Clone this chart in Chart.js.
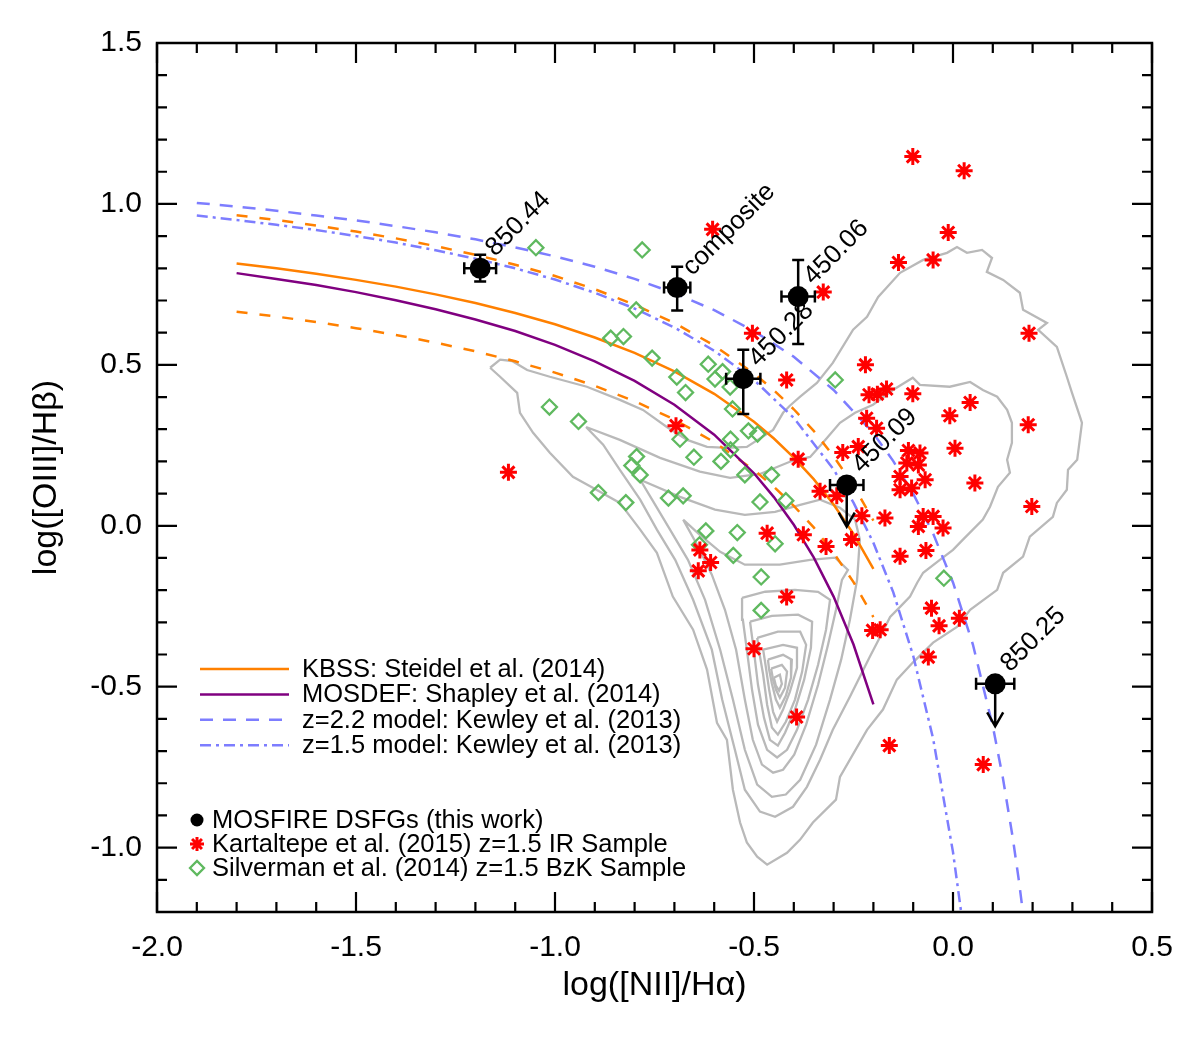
<!DOCTYPE html>
<html><head><meta charset="utf-8">
<script src="https://cdn.jsdelivr.net/npm/chart.js@4/dist/chart.umd.min.js"></script>
<style>html,body{margin:0;padding:0;background:#fff}</style>
</head><body>
<canvas id="c" width="1200" height="1050"></canvas>
<script>
// ---------------- data ----------------
const xTicks = [-2.0, -1.5, -1.0, -0.5, 0.0, 0.5];
const yTicks = [-1.0, -0.5, 0.0, 0.5, 1.0, 1.5];

const mosfireNames = ['850.44', 'composite', '450.06', '450.28', '450.09', '850.25'];
const mosfireX = [-1.188, -0.693, -0.389, -0.527, -0.267, 0.106];
const mosfireY = [0.800, 0.740, 0.712, 0.457, 0.127, -0.491];
const mosfireXErr = [0.040, 0.033, 0.042, 0.043, 0.042, 0.048];
const mosfireYErrHi = [0.042, 0.065, 0.114, 0.090, 0, 0];
const mosfireYErrLo = [0.041, 0.071, 0.147, 0.110, 0, 0];
const mosfireLimitTip = [null, null, null, null, -0.003, -0.623]; // upper limits: arrow tip

const kartaltepe = [[-0.217,0.334],[-0.192,0.303],[-0.008,0.342],[0.189,0.314],[-0.389,0.207],[-0.277,0.228],[-0.238,0.246],[-0.112,0.234],[-0.083,0.226],[-0.116,0.195],[-0.087,0.189],[0.005,0.241],[-0.133,0.153],[-0.070,0.143],[-0.133,0.112],[-0.104,0.117],[0.055,0.133],[0.198,0.060],[-0.334,0.107],[-0.292,0.093],[-0.229,0.031],[-0.171,0.024],[-0.075,0.029],[-0.050,0.029],[-0.087,-0.002],[-0.025,-0.007],[-0.376,-0.028],[-0.319,-0.064],[-0.255,-0.043],[-0.133,-0.095],[-0.068,-0.077],[-0.054,-0.256],[-0.035,-0.311],[0.016,-0.287],[-0.202,-0.325],[-0.183,-0.323],[-0.062,-0.408],[-0.393,-0.594],[-0.160,-0.683],[0.076,-0.742],[-0.101,1.147],[0.028,1.103],[-0.012,0.911],[-0.137,0.818],[-0.050,0.826],[-0.326,0.726],[0.191,0.598],[-0.220,0.500],[-0.211,0.407],[-0.190,0.409],[-0.167,0.425],[-0.101,0.410],[0.043,0.383],[-0.604,0.921],[-0.504,0.598],[-0.418,0.453],[-0.696,0.311],[-1.117,0.166],[-0.467,-0.023],[-0.636,-0.075],[-0.609,-0.114],[-0.640,-0.140],[-0.418,-0.221],[-0.500,-0.382]];

const silverman = [[-1.048,0.864],[-0.781,0.857],[-0.796,0.671],[-0.860,0.583],[-0.828,0.588],[-0.756,0.521],[-0.694,0.462],[-0.672,0.414],[-0.615,0.502],[-0.579,0.479],[-0.598,0.456],[-0.560,0.431],[-0.554,0.363],[-1.014,0.369],[-0.941,0.324],[-0.686,0.269],[-0.514,0.295],[-0.491,0.285],[-0.559,0.269],[-0.559,0.236],[-0.651,0.213],[-0.583,0.200],[-0.795,0.215],[-0.807,0.187],[-0.786,0.158],[-0.523,0.158],[-0.456,0.158],[-0.891,0.103],[-0.822,0.072],[-0.715,0.086],[-0.678,0.093],[-0.485,0.074],[-0.420,0.078],[-0.621,-0.016],[-0.542,-0.021],[-0.447,-0.056],[-0.637,-0.059],[-0.552,-0.092],[-0.482,-0.159],[-0.482,-0.263],[-0.023,-0.163],[-0.296,0.453]];

const kbss = [[-1.8,0.815],[-1.7,0.800],[-1.6,0.783],[-1.5,0.764],[-1.4,0.743],[-1.3,0.719],[-1.2,0.692],[-1.1,0.661],[-1.0,0.626],[-0.9,0.585],[-0.8,0.537],[-0.7,0.480],[-0.6,0.410],[-0.5,0.323],[-0.45,0.271],[-0.4,0.212],[-0.35,0.145],[-0.3,0.066],[-0.25,-0.025],[-0.2,-0.134]];
const kbssUpper = [[-1.8,0.965],[-1.7,0.950],[-1.6,0.933],[-1.5,0.914],[-1.4,0.893],[-1.3,0.869],[-1.2,0.842],[-1.1,0.811],[-1.0,0.776],[-0.9,0.735],[-0.8,0.687],[-0.7,0.630],[-0.6,0.560],[-0.5,0.473],[-0.45,0.421],[-0.4,0.362],[-0.35,0.295],[-0.3,0.216],[-0.25,0.125],[-0.2,0.016]];
const kbssLower = [[-1.8,0.665],[-1.7,0.650],[-1.6,0.633],[-1.5,0.614],[-1.4,0.593],[-1.3,0.569],[-1.2,0.542],[-1.1,0.511],[-1.0,0.476],[-0.9,0.435],[-0.8,0.387],[-0.7,0.330],[-0.6,0.260],[-0.5,0.173],[-0.45,0.121],[-0.4,0.062],[-0.35,-0.005],[-0.3,-0.084],[-0.25,-0.175],[-0.2,-0.284]];
const mosdef = [[-1.8,0.785],[-1.7,0.767],[-1.6,0.748],[-1.5,0.726],[-1.4,0.701],[-1.3,0.673],[-1.2,0.641],[-1.1,0.605],[-1.0,0.562],[-0.9,0.511],[-0.8,0.450],[-0.7,0.376],[-0.6,0.283],[-0.5,0.163],[-0.45,0.089],[-0.4,0.003],[-0.35,-0.098],[-0.3,-0.220],[-0.25,-0.369],[-0.2,-0.555]];
const kewleyZ22 = [[-1.9,1.003],[-1.8,0.992],[-1.7,0.979],[-1.6,0.964],[-1.5,0.949],[-1.4,0.931],[-1.3,0.912],[-1.2,0.890],[-1.1,0.865],[-1.0,0.837],[-0.9,0.805],[-0.8,0.767],[-0.7,0.723],[-0.6,0.670],[-0.5,0.605],[-0.4,0.525],[-0.3,0.422],[-0.2,0.287],[-0.15,0.201],[-0.1,0.100],[-0.05,-0.024],[0.0,-0.176],[0.05,-0.369],[0.1,-0.623],[0.125,-0.781],[0.15,-0.968],[0.165,-1.098],[0.176,-1.204]];
const kewleyZ15 = [[-1.9,0.964],[-1.8,0.950],[-1.7,0.935],[-1.6,0.919],[-1.5,0.900],[-1.4,0.880],[-1.3,0.856],[-1.2,0.830],[-1.1,0.800],[-1.0,0.765],[-0.9,0.724],[-0.8,0.675],[-0.7,0.616],[-0.6,0.544],[-0.5,0.453],[-0.4,0.335],[-0.3,0.175],[-0.25,0.072],[-0.2,-0.053],[-0.15,-0.207],[-0.1,-0.404],[-0.05,-0.661],[0.0,-1.014],[0.021,-1.205]];

// SDSS contours (outer to inner), closed polylines
const sdss1 = [[-1.163,0.491],[-1.138,0.516],[-1.108,0.512],[-1.070,0.484],[-1.013,0.463],[-0.920,0.432],[-0.837,0.391],[-0.779,0.360],[-0.719,0.307],[-0.668,0.267],[-0.618,0.245],[-0.568,0.242],[-0.518,0.245],[-0.452,0.298],[-0.427,0.351],[-0.410,0.373],[-0.384,0.401],[-0.342,0.444],[-0.302,0.506],[-0.251,0.609],[-0.216,0.649],[-0.188,0.711],[-0.133,0.786],[-0.075,0.826],[-0.015,0.848],[0.010,0.866],[0.035,0.848],[0.073,0.857],[0.098,0.832],[0.085,0.789],[0.126,0.764],[0.168,0.724],[0.176,0.671],[0.236,0.630],[0.214,0.609],[0.261,0.556],[0.286,0.463],[0.299,0.413],[0.319,0.339],[0.324,0.320],[0.312,0.205],[0.289,0.174],[0.286,0.112],[0.261,0.071],[0.251,0.028],[0.193,-0.034],[0.176,-0.096],[0.126,-0.146],[0.111,-0.199],[0.043,-0.261],[0.010,-0.314],[-0.050,-0.363],[-0.101,-0.425],[-0.141,-0.478],[-0.176,-0.571],[-0.216,-0.634],[-0.284,-0.780],[-0.294,-0.851],[-0.352,-0.922],[-0.384,-0.975],[-0.417,-1.016],[-0.467,-1.053],[-0.492,-1.028],[-0.518,-0.984],[-0.535,-0.922],[-0.553,-0.820],[-0.568,-0.665],[-0.593,-0.612],[-0.618,-0.447],[-0.653,-0.323],[-0.704,-0.220],[-0.744,-0.084],[-0.786,-0.012],[-0.837,0.071],[-0.905,0.118],[-0.955,0.152],[-1.013,0.227],[-1.055,0.289],[-1.088,0.351],[-1.095,0.413],[-1.138,0.463],[-1.163,0.491]];
const sdss2 = [[-0.922,0.307],[-0.837,0.267],[-0.736,0.211],[-0.636,0.168],[-0.560,0.149],[-0.485,0.161],[-0.410,0.199],[-0.359,0.214],[-0.327,0.258],[-0.284,0.320],[-0.246,0.351],[-0.201,0.376],[-0.151,0.422],[-0.101,0.460],[-0.083,0.438],[-0.008,0.432],[0.043,0.447],[0.075,0.422],[0.111,0.401],[0.136,0.360],[0.148,0.320],[0.148,0.258],[0.136,0.205],[0.143,0.165],[0.113,0.121],[0.093,0.059],[0.075,0.019],[0.025,-0.043],[0.000,-0.075],[-0.033,-0.106],[-0.075,-0.146],[-0.090,-0.177],[-0.108,-0.220],[-0.133,-0.252],[-0.158,-0.283],[-0.183,-0.345],[-0.209,-0.407],[-0.234,-0.469],[-0.259,-0.531],[-0.302,-0.634],[-0.334,-0.727],[-0.367,-0.811],[-0.402,-0.873],[-0.447,-0.904],[-0.485,-0.888],[-0.523,-0.820],[-0.548,-0.696],[-0.580,-0.540],[-0.606,-0.385],[-0.653,-0.230],[-0.698,-0.106],[-0.744,-0.012],[-0.786,0.081],[-0.837,0.174],[-0.879,0.252],[-0.922,0.307]];
const sdss3 = [[-0.786,0.143],[-0.686,0.090],[-0.598,0.050],[-0.523,0.034],[-0.447,0.043],[-0.384,0.065],[-0.334,0.081],[-0.284,0.056],[-0.246,0.019],[-0.234,-0.043],[-0.241,-0.168],[-0.259,-0.292],[-0.281,-0.416],[-0.309,-0.540],[-0.344,-0.680],[-0.384,-0.789],[-0.420,-0.835],[-0.455,-0.842],[-0.492,-0.804],[-0.523,-0.696],[-0.553,-0.540],[-0.585,-0.385],[-0.623,-0.230],[-0.666,-0.106],[-0.711,-0.012],[-0.756,0.081],[-0.786,0.143]];
const sdss4 = [[-0.678,0.019],[-0.636,-0.028],[-0.585,-0.081],[-0.523,-0.121],[-0.435,-0.121],[-0.359,-0.106],[-0.296,-0.099],[-0.264,-0.137],[-0.279,-0.168],[-0.294,-0.261],[-0.314,-0.370],[-0.339,-0.494],[-0.369,-0.618],[-0.399,-0.711],[-0.427,-0.758],[-0.452,-0.767],[-0.480,-0.742],[-0.503,-0.665],[-0.523,-0.540],[-0.545,-0.385],[-0.573,-0.261],[-0.606,-0.152],[-0.643,-0.059],[-0.678,0.019]];
const sdss5 = [[-0.530,-0.224],[-0.472,-0.205],[-0.397,-0.199],[-0.339,-0.205],[-0.309,-0.230],[-0.319,-0.323],[-0.339,-0.432],[-0.364,-0.540],[-0.392,-0.634],[-0.417,-0.696],[-0.442,-0.720],[-0.467,-0.696],[-0.490,-0.618],[-0.505,-0.509],[-0.518,-0.385],[-0.528,-0.292],[-0.530,-0.224]];
const sdss6 = [[-0.510,-0.298],[-0.455,-0.280],[-0.389,-0.276],[-0.354,-0.298],[-0.357,-0.379],[-0.374,-0.478],[-0.397,-0.571],[-0.422,-0.643],[-0.440,-0.683],[-0.460,-0.665],[-0.475,-0.596],[-0.490,-0.494],[-0.500,-0.391],[-0.510,-0.298]];
const sdss7 = [[-0.492,-0.348],[-0.440,-0.329],[-0.384,-0.329],[-0.369,-0.370],[-0.379,-0.453],[-0.397,-0.540],[-0.420,-0.609],[-0.440,-0.649],[-0.455,-0.627],[-0.467,-0.556],[-0.477,-0.463],[-0.487,-0.391],[-0.492,-0.348]];
const sdss8 = [[-0.477,-0.385],[-0.427,-0.370],[-0.392,-0.379],[-0.392,-0.441],[-0.410,-0.516],[-0.427,-0.571],[-0.442,-0.609],[-0.452,-0.578],[-0.462,-0.509],[-0.470,-0.441],[-0.477,-0.385]];
const sdss9 = [[-0.465,-0.416],[-0.427,-0.401],[-0.405,-0.416],[-0.407,-0.472],[-0.420,-0.528],[-0.435,-0.565],[-0.445,-0.540],[-0.455,-0.491],[-0.462,-0.447],[-0.465,-0.416]];
const sdss10 = [[-0.457,-0.444],[-0.430,-0.432],[-0.417,-0.453],[-0.422,-0.503],[-0.435,-0.534],[-0.445,-0.509],[-0.452,-0.478],[-0.457,-0.444]];
const sdss11 = [[-0.450,-0.472],[-0.435,-0.463],[-0.430,-0.491],[-0.437,-0.512],[-0.445,-0.497],[-0.450,-0.472]];
const sdssContours = [sdss1, sdss2, sdss3, sdss4, sdss5, sdss6, sdss7, sdss8, sdss9, sdss10, sdss11];

// ---------------- styles ----------------
const FONT = '"Liberation Sans", Arial, Helvetica, sans-serif';
const ORANGE = 'rgb(255,128,0)';
const PURPLE = 'rgb(128,0,128)';
const BLUE = 'rgb(125,125,255)';
const GREEN = 'rgb(95,185,95)';
const RED = 'rgb(255,0,0)';
const GREY = 'rgb(185,185,185)';

const toXY = arr => arr.map(p => ({x: p[0], y: p[1]}));
const lineDS = (label, arr, color, dash, order, legend) => ({
  label, data: toXY(arr), showLine: true, pointRadius: 0, borderColor: color,
  borderWidth: 2.5, borderDash: dash, fill: false, tension: 0, order, legendLine: legend
});

const datasets = [
  {label: 'MOSFIRE DSFGs (this work)', data: mosfireX.map((x, i) => ({x, y: mosfireY[i]})),
   pointStyle: 'circle', pointRadius: 10.5, backgroundColor: '#000', borderColor: '#000', borderWidth: 0, order: 0, legendSym: 0},
  {label: 'Kartaltepe et al. (2015) z=1.5 IR Sample', data: toXY(kartaltepe), pointStyle: 'star',
   pointRadius: 8.5, borderColor: RED, backgroundColor: RED, borderWidth: 3, order: 1, legendSym: 1},
  {label: 'Silverman et al. (2014) z=1.5 BzK Sample', data: toXY(silverman), pointStyle: 'rectRot',
   pointRadius: 7.5, borderColor: GREEN, backgroundColor: 'rgba(0,0,0,0)', borderWidth: 2.3, order: 2, legendSym: 2},
  lineDS('KBSS: Steidel et al. (2014)', kbss, ORANGE, [], 3, 0),
  lineDS('KBSS upper', kbssUpper, ORANGE, [11, 12], 4, null),
  lineDS('KBSS lower', kbssLower, ORANGE, [11, 12], 4, null),
  lineDS('MOSDEF: Shapley et al. (2014)', mosdef, PURPLE, [], 3, 1),
  lineDS('z=2.2 model: Kewley et al. (2013)', kewleyZ22, BLUE, [13, 10], 5, 2),
  lineDS('z=1.5 model: Kewley et al. (2013)', kewleyZ15, BLUE, [11, 5, 3, 5], 5, 3),
];
sdssContours.forEach((c, i) => {
  datasets.push({label: 'SDSS ' + (i + 1), data: toXY(c), showLine: true, pointRadius: 0,
    borderColor: GREY, borderWidth: 2.3, fill: false, tension: 0, order: 10});
});

// ---------------- plugins ----------------
const framePlugin = {
  id: 'frame',
  afterDatasetsDraw(chart) {
    const {ctx, chartArea: a, scales: {x, y}} = chart;
    ctx.save();
    ctx.strokeStyle = '#000';
    ctx.lineWidth = 2.5;
    for (let i = 0; i < mosfireX.length; i++) {
      const px = x.getPixelForValue(mosfireX[i]);
      const py = y.getPixelForValue(mosfireY[i]);
      const xl = x.getPixelForValue(mosfireX[i] - mosfireXErr[i]);
      const xr = x.getPixelForValue(mosfireX[i] + mosfireXErr[i]);
      ctx.beginPath();
      ctx.moveTo(xl, py); ctx.lineTo(xr, py);
      ctx.moveTo(xl, py - 6); ctx.lineTo(xl, py + 6);
      ctx.moveTo(xr, py - 6); ctx.lineTo(xr, py + 6);
      ctx.stroke();
      if (mosfireLimitTip[i] === null) {
        const yt = y.getPixelForValue(mosfireY[i] + mosfireYErrHi[i]);
        const yb = y.getPixelForValue(mosfireY[i] - mosfireYErrLo[i]);
        ctx.beginPath();
        ctx.moveTo(px, yt); ctx.lineTo(px, yb);
        ctx.moveTo(px - 6, yt); ctx.lineTo(px + 6, yt);
        ctx.moveTo(px - 6, yb); ctx.lineTo(px + 6, yb);
        ctx.stroke();
      } else {
        const tip = y.getPixelForValue(mosfireLimitTip[i]);
        ctx.beginPath();
        ctx.moveTo(px, py); ctx.lineTo(px, tip);
        ctx.moveTo(px - 8, tip - 14); ctx.lineTo(px, tip); ctx.lineTo(px + 8, tip - 14);
        ctx.stroke();
      }
      ctx.save();
      ctx.translate(px + 15, py - 11);
      ctx.rotate(-Math.PI / 4);
      ctx.fillStyle = '#000';
      ctx.font = '26px ' + FONT;
      ctx.textBaseline = 'alphabetic';
      ctx.textAlign = 'left';
      ctx.fillText(mosfireNames[i], 0, 0);
      ctx.restore();
    }
    // frame
    ctx.lineWidth = 2.5;
    ctx.strokeRect(a.left, a.top, a.right - a.left, a.bottom - a.top);
    // inward ticks
    ctx.lineWidth = 2.2;
    ctx.beginPath();
    for (let k = -20; k <= 5; k++) {
      const px = x.getPixelForValue(k / 10);
      const len = (k % 5 === 0) ? 20 : 10;
      ctx.moveTo(px, a.bottom); ctx.lineTo(px, a.bottom - len);
      ctx.moveTo(px, a.top); ctx.lineTo(px, a.top + len);
    }
    for (let k = -12; k <= 15; k++) {
      const py = y.getPixelForValue(k / 10);
      const len = (k % 5 === 0) ? 20 : 10;
      ctx.moveTo(a.left, py); ctx.lineTo(a.left + len, py);
      ctx.moveTo(a.right, py); ctx.lineTo(a.right - len, py);
    }
    ctx.stroke();
    ctx.restore();
  },
  afterDraw(chart) {
    const {ctx} = chart;
    ctx.save();
    ctx.font = '25.5px ' + FONT;
    ctx.fillStyle = '#000';
    ctx.textBaseline = 'middle';
    ctx.textAlign = 'left';
    chart.data.datasets.forEach(ds => {
      if (ds.legendLine === undefined || ds.legendLine === null) return;
      const yy = 669 + ds.legendLine * 25.4;
      ctx.save();
      ctx.strokeStyle = ds.borderColor; ctx.lineWidth = 2.5; ctx.setLineDash(ds.borderDash || []);
      ctx.beginPath(); ctx.moveTo(200, yy); ctx.lineTo(289, yy); ctx.stroke();
      ctx.restore();
      ctx.fillText(ds.label, 302, yy + 1);
    });
    chart.data.datasets.forEach(ds => {
      if (ds.legendSym === undefined) return;
      const yy = 820 + ds.legendSym * 24;
      ctx.save();
      ctx.strokeStyle = ds.borderColor; ctx.fillStyle = ds.backgroundColor;
      ctx.lineWidth = ds.borderWidth || 1;
      Chart.helpers.drawPoint(ctx, {pointStyle: ds.pointStyle, radius: ds.legendSym === 0 ? 6.5 : 7,
        borderWidth: ds.borderWidth, rotation: 0}, 197, yy);
      ctx.restore();
      ctx.fillText(ds.label, 212, yy + 1);
    });
    ctx.restore();
  }
};

new Chart(document.getElementById('c'), {
  type: 'scatter',
  data: {datasets},
  options: {
    responsive: false, animation: false, devicePixelRatio: 1,
    layout: {padding: {left: 0, right: 48, top: 43, bottom: 0}},
    plugins: {legend: {display: false}, tooltip: {enabled: false}},
    scales: {
      x: {
        type: 'linear', min: -2.0, max: 0.5,
        afterFit(s) { s.height = 138; },
        afterBuildTicks(s) { s.ticks = xTicks.map(v => ({value: v})); },
        grid: {display: false, drawTicks: false}, border: {display: false},
        ticks: {padding: 18, color: '#000', font: {size: 30, family: FONT}, maxRotation: 0, autoSkip: false,
          callback: v => Number(v).toFixed(1)},
        title: {display: true, text: 'log([NII]/Hα)', color: '#000', font: {size: 34, family: FONT},
          padding: {top: 0, bottom: 44}}
      },
      y: {
        type: 'linear', min: -1.2, max: 1.5,
        afterFit(s) { s.width = 157; },
        afterBuildTicks(s) { s.ticks = yTicks.map(v => ({value: v})); },
        grid: {display: false, drawTicks: false}, border: {display: false},
        ticks: {padding: 15, color: '#000', font: {size: 30, family: FONT}, autoSkip: false,
          callback: v => Number(v).toFixed(1)},
        title: {display: true, text: 'log([OIII]/Hβ)', color: '#000', font: {size: 34, family: FONT},
          padding: {top: 26, bottom: 0}}
      }
    }
  },
  plugins: [framePlugin]
});
</script>
</body></html>
